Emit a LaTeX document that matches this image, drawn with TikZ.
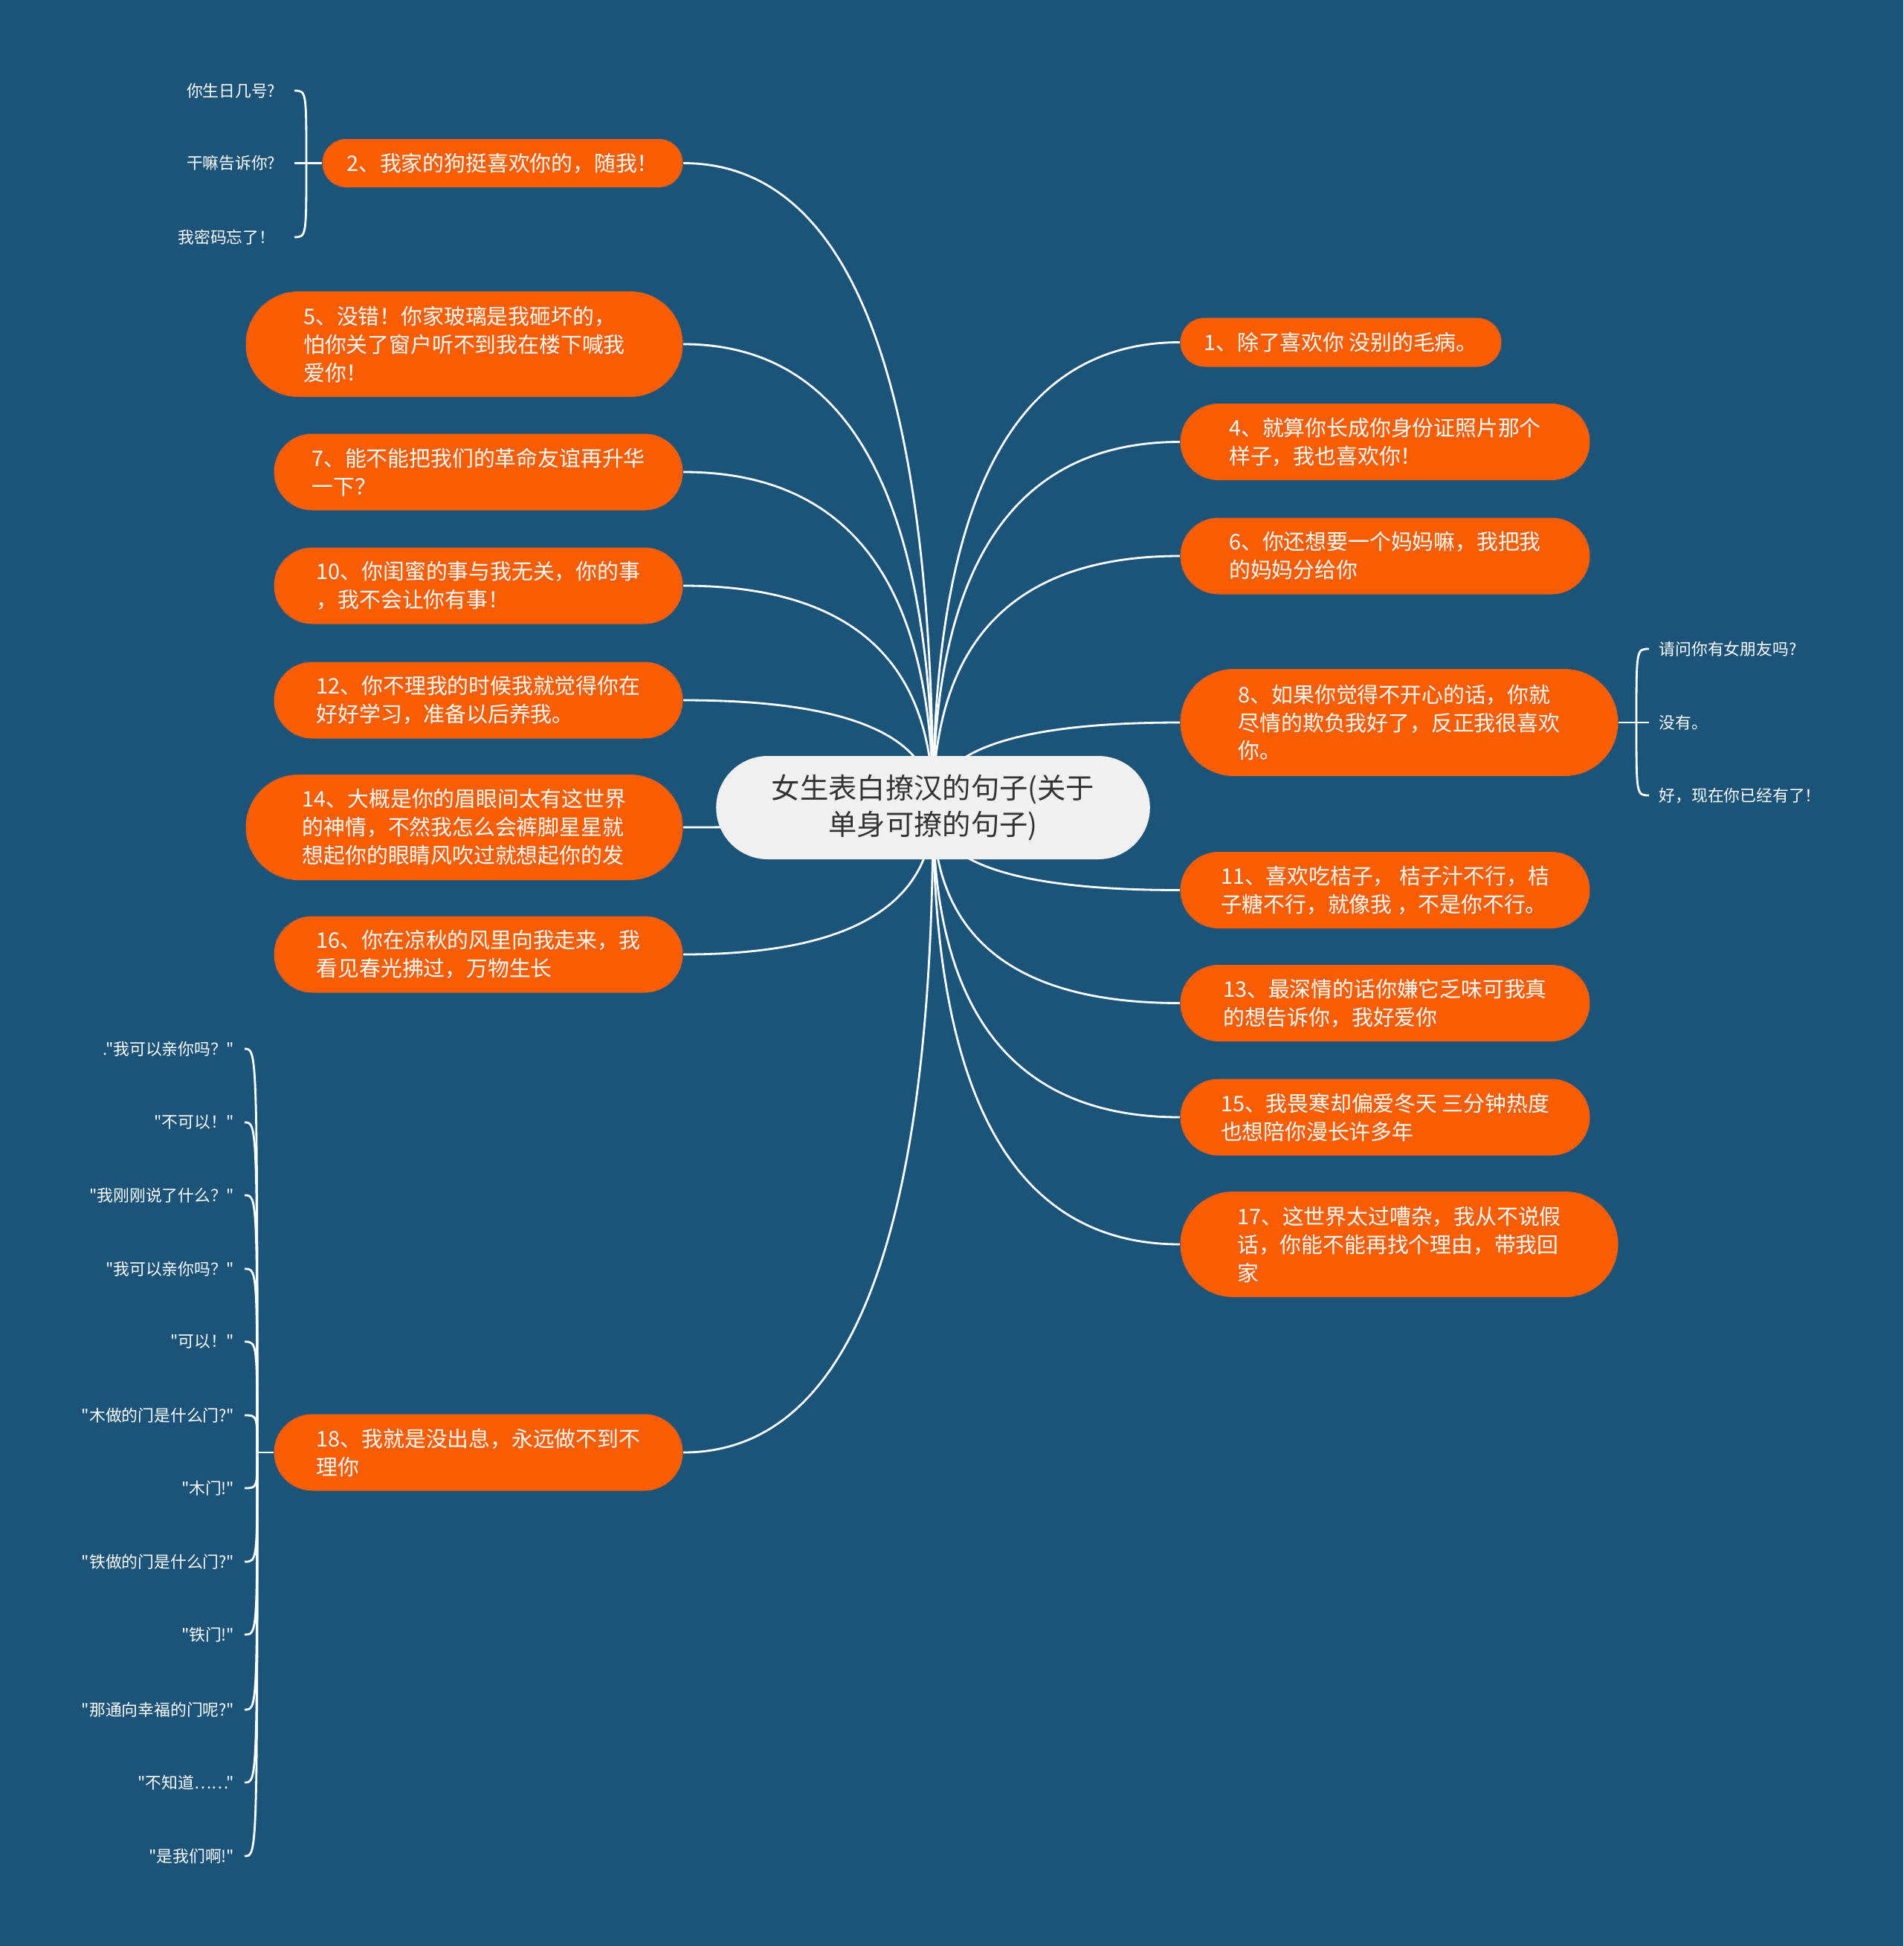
\documentclass[tikz,border=0pt]{standalone}
\usepackage{fontspec}
\setmainfont{Noto Sans CJK SC}[Ligatures=TeXOff]
\usetikzlibrary{shapes.misc,calc}
\definecolor{mapblue}{RGB}{27,84,120}
\definecolor{mapgray}{RGB}{241,241,241}
\definecolor{maptext}{RGB}{51,51,51}
\definecolor{maporange}{RGB}{250,94,5}
\pgfdeclarelayer{bgfill}
\pgfdeclarelayer{wires}
\pgfsetlayers{bgfill,wires,main}
\tikzset{
  rootbox/.style={rounded rectangle,fill=mapgray,text=maptext,minimum width=6.07cm,minimum height=1.39cm,align=center,font=\fontsize{10.9}{13.8}\selectfont},
  topicbox/.style={rounded rectangle,fill=maporange,text=white,align=left,inner xsep=1pt,font=\fontsize{8.2}{10.8}\selectfont},
  leaftext/.style={text=white,inner ysep=0pt,inner xsep=0.13cm,font=\fontsize{6.2}{8}\selectfont},
  wire/.style={white,line width=0.8pt},
  branchto/.style={to path={.. controls ($(\tikztostart)!0.667!(\tikztostart|-\tikztotarget)$) and ($(\tikztotarget)!0.667!(\tikztostart|-\tikztotarget)$) .. (\tikztotarget)}},
  bracketto/.style={to path={.. controls (\tikztostart|-\tikztotarget) and (\tikztostart|-\tikztotarget) .. (\tikztotarget)}}
}
\begin{document}
\begin{tikzpicture}[y=-1cm]
\begin{pgfonlayer}{bgfill}
\fill[mapblue](0,0)rectangle(25.6,26.18);
\end{pgfonlayer}
% centre
\node[rootbox](c)at(12.55,10.865){女生表白撩汉的句子(关于\\单身可撩的句子)};
% left side
\node[topicbox,minimum width=4.92cm,minimum height=0.65cm](n2)at(6.76,2.195){2、我家的狗挺喜欢你的，随我！};
\node[topicbox,minimum width=5.95cm,minimum height=1.42cm](n5)at(6.245,4.63){5、没错！你家玻璃是我砸坏的，\\怕你关了窗户听不到我在楼下喊我\\爱你！};
\node[topicbox,minimum width=5.57cm,minimum height=1.03cm](n7)at(6.435,6.35){7、能不能把我们的革命友谊再升华\\一下？};
\node[topicbox,minimum width=5.57cm,minimum height=1.03cm](n10)at(6.435,7.88){10、你闺蜜的事与我无关，你的事\\，我不会让你有事！};
\node[topicbox,minimum width=5.57cm,minimum height=1.03cm](n12)at(6.435,9.42){12、你不理我的时候我就觉得你在\\好好学习，准备以后养我。};
\node[topicbox,minimum width=5.95cm,minimum height=1.42cm](n14)at(6.245,11.13){14、大概是你的眉眼间太有这世界\\的神情，不然我怎么会裤脚星星就\\想起你的眼睛风吹过就想起你的发};
\node[topicbox,minimum width=5.57cm,minimum height=1.03cm](n16)at(6.435,12.84){16、你在凉秋的风里向我走来，我\\看见春光拂过，万物生长};
\node[topicbox,minimum width=5.57cm,minimum height=1.03cm](n18)at(6.435,19.54){18、我就是没出息，永远做不到不\\理你};
% right side
\node[topicbox,minimum width=4.39cm,minimum height=0.66cm](n1)at(18.035,4.605){1、除了喜欢你 没别的毛病。};
\node[topicbox,minimum width=5.58cm,minimum height=1.03cm](n4)at(18.63,5.945){4、就算你长成你身份证照片那个\\样子，我也喜欢你！};
\node[topicbox,minimum width=5.58cm,minimum height=1.03cm](n6)at(18.63,7.48){6、你还想要一个妈妈嘛，我把我\\的妈妈分给你};
\node[topicbox,minimum width=5.96cm,minimum height=1.44cm](n8)at(18.82,9.72){8、如果你觉得不开心的话，你就\\尽情的欺负我好了，反正我很喜欢\\你。};
\node[topicbox,minimum width=5.58cm,minimum height=1.03cm](n11)at(18.63,11.975){11、喜欢吃桔子， 桔子汁不行，桔\\子糖不行，就像我 ，不是你不行。};
\node[topicbox,minimum width=5.58cm,minimum height=1.03cm](n13)at(18.63,13.495){13、最深情的话你嫌它乏味可我真\\的想告诉你，我好爱你};
\node[topicbox,minimum width=5.58cm,minimum height=1.03cm](n15)at(18.63,15.03){15、我畏寒却偏爱冬天 三分钟热度\\也想陪你漫长许多年};
\node[topicbox,minimum width=5.96cm,minimum height=1.42cm](n17)at(18.82,16.74){17、这世界太过嘈杂，我从不说假\\话，你能不能再找个理由，带我回\\家};
% leaves of 2
\node[leaftext,inner xsep=0.25cm,anchor=east](a1)at(3.96,1.22){你生日几号?};
\node[leaftext,inner xsep=0.25cm,anchor=east](a2)at(3.96,2.195){干嘛告诉你?};
\node[leaftext,inner xsep=0.25cm,anchor=east](a3)at(3.96,3.19){我密码忘了！};
\coordinate(j2)at(4.12,2.195);
% leaves of 8
\node[leaftext,anchor=west](b1)at(22.18,8.73){请问你有女朋友吗?};
\node[leaftext,anchor=west](b2)at(22.18,9.72){没有。};
\node[leaftext,anchor=west](b3)at(22.18,10.70){好，现在你已经有了！};
\coordinate(j8)at(22.01,9.72);
% leaves of 18
\node[leaftext,anchor=east](d1)at(3.29,14.11){."我可以亲你吗？"};
\node[leaftext,anchor=east](d2)at(3.29,15.10){"不可以！"};
\node[leaftext,anchor=east](d3)at(3.29,16.08){"我刚刚说了什么？"};
\node[leaftext,anchor=east](d4)at(3.29,17.07){"我可以亲你吗？"};
\node[leaftext,anchor=east](d5)at(3.29,18.05){"可以！"};
\node[leaftext,anchor=east](d6)at(3.29,19.04){"木做的门是什么门?"};
\node[leaftext,anchor=east](d7)at(3.29,20.02){"木门!"};
\node[leaftext,anchor=east](d8)at(3.29,21.01){"铁做的门是什么门?"};
\node[leaftext,anchor=east](d9)at(3.29,21.99){"铁门!"};
\node[leaftext,anchor=east](d10)at(3.29,23.00){"那通向幸福的门呢?"};
\node[leaftext,anchor=east](d11)at(3.29,23.98){"不知道……"};
\node[leaftext,anchor=east](d12)at(3.29,24.97){"是我们啊!"};
\coordinate(j18)at(3.46,19.54);
% branches, under the centre
\begin{pgfonlayer}{wires}
\draw[wire](c.center)to[branchto](n2.east);
\draw[wire](c.center)to[branchto](n5.east);
\draw[wire](c.center)to[branchto](n7.east);
\draw[wire](c.center)to[branchto](n10.east);
\draw[wire](c.center)to[branchto](n12.east);
\draw[wire](c.center)to[branchto](n14.east);
\draw[wire](c.center)to[branchto](n16.east);
\draw[wire](c.center)to[branchto](n18.east);
\draw[wire](c.center)to[branchto](n1.west);
\draw[wire](c.center)to[branchto](n4.west);
\draw[wire](c.center)to[branchto](n6.west);
\draw[wire](c.center)to[branchto](n8.west);
\draw[wire](c.center)to[branchto](n11.west);
\draw[wire](c.center)to[branchto](n13.west);
\draw[wire](c.center)to[branchto](n15.west);
\draw[wire](c.center)to[branchto](n17.west);
\end{pgfonlayer}
% brackets
\draw[wire](n2.west)--(a2.east);
\draw[wire](j2)to[bracketto](a1.east);
\draw[wire](j2)to[bracketto](a3.east);
\draw[wire](n8.east)--(b2.west);
\draw[wire](j8)to[bracketto](b1.west);
\draw[wire](j8)to[bracketto](b3.west);
\draw[wire](n18.west)--(j18);
\draw[wire](j18)to[bracketto](d1.east);
\draw[wire](j18)to[bracketto](d2.east);
\draw[wire](j18)to[bracketto](d3.east);
\draw[wire](j18)to[bracketto](d4.east);
\draw[wire](j18)to[bracketto](d5.east);
\draw[wire](j18)to[bracketto](d6.east);
\draw[wire](j18)to[bracketto](d7.east);
\draw[wire](j18)to[bracketto](d8.east);
\draw[wire](j18)to[bracketto](d9.east);
\draw[wire](j18)to[bracketto](d10.east);
\draw[wire](j18)to[bracketto](d11.east);
\draw[wire](j18)to[bracketto](d12.east);
\end{tikzpicture}
\end{document}
